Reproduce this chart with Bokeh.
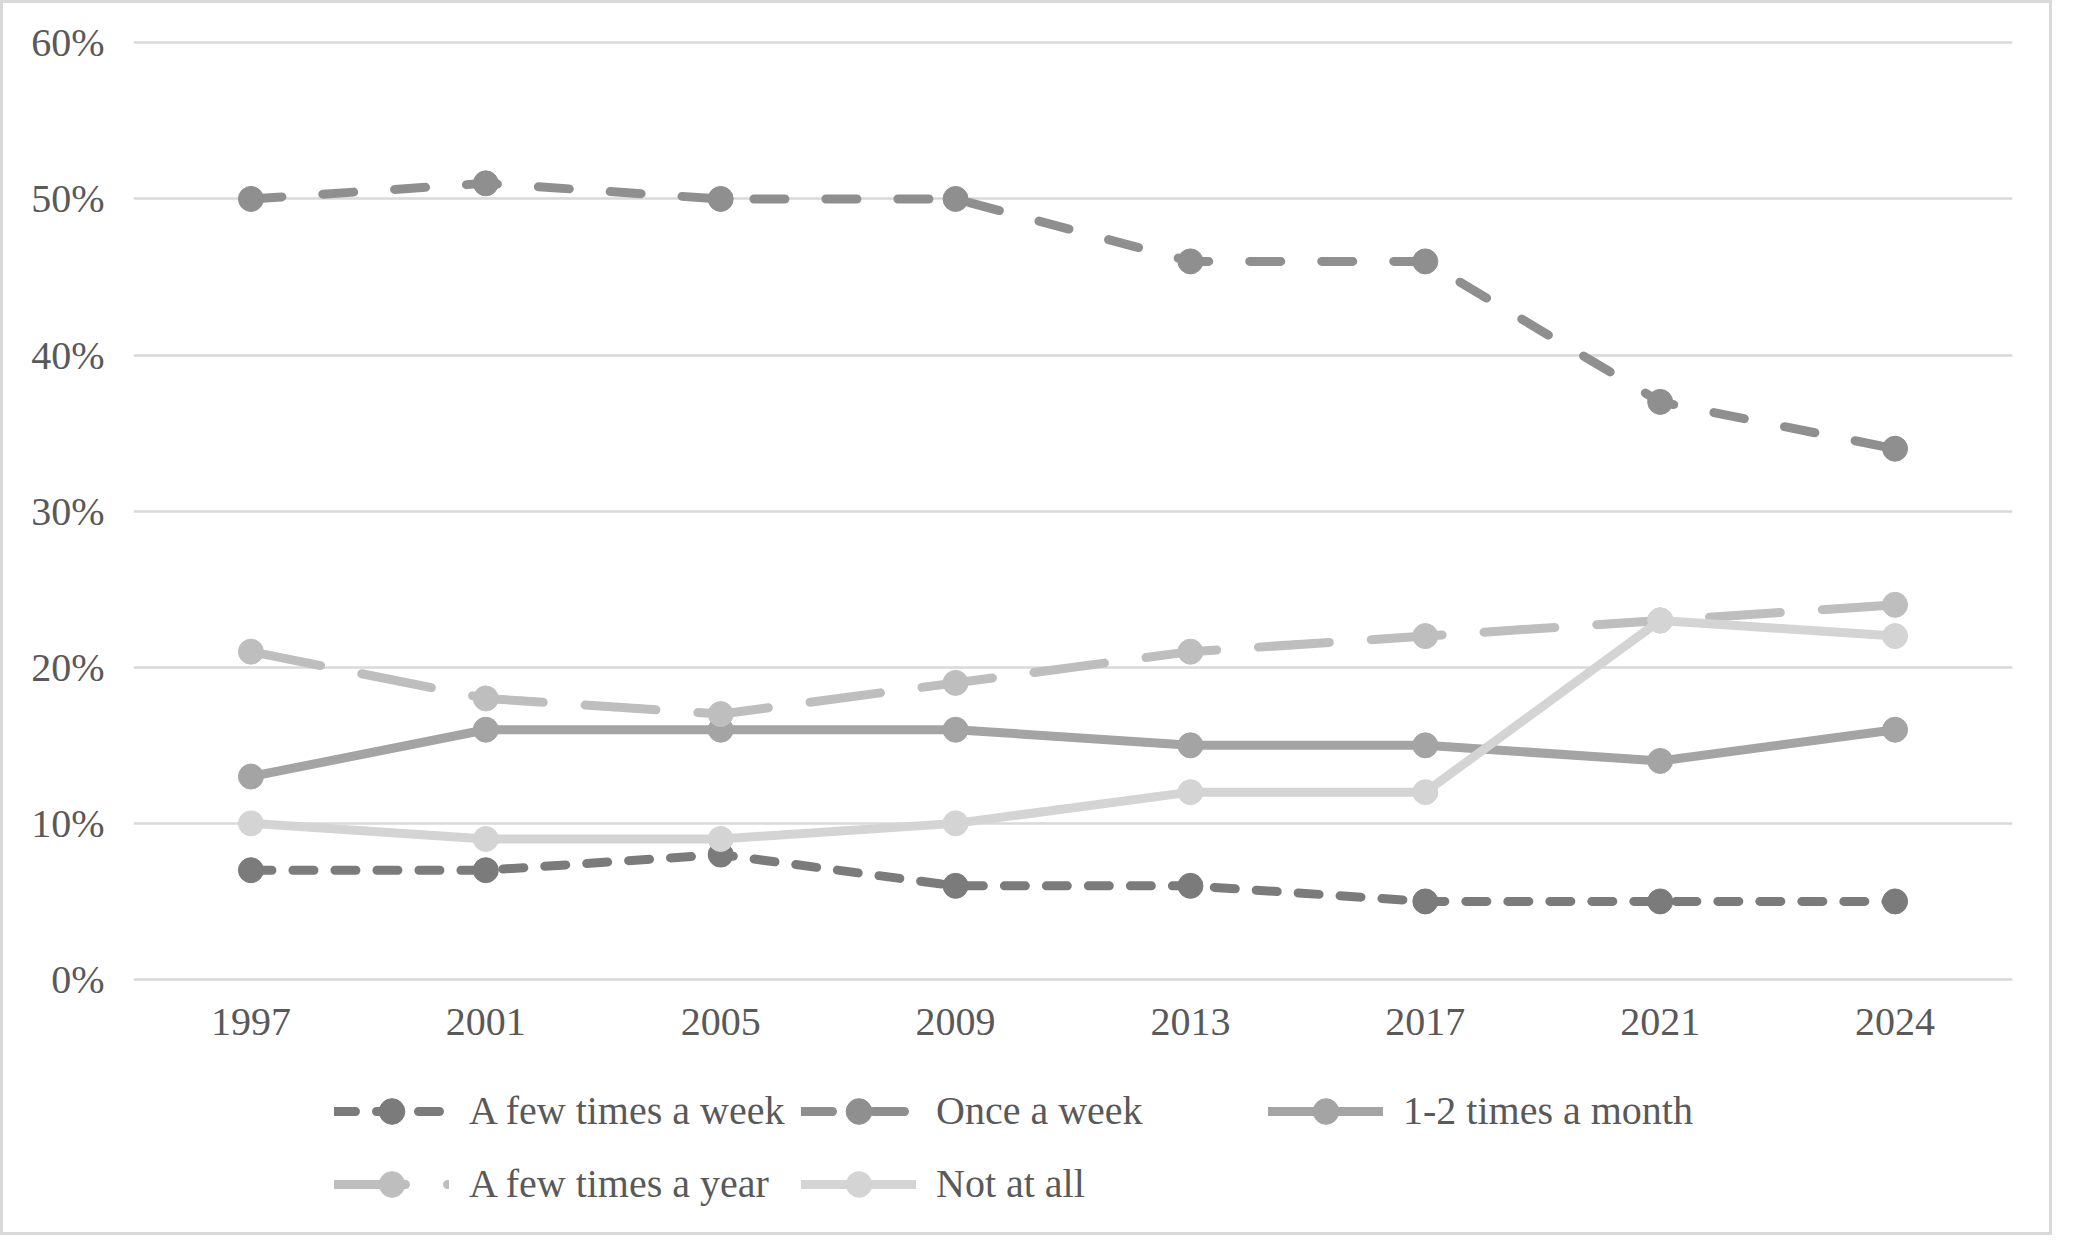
from bokeh.plotting import figure
from bokeh.models import FactorRange, Range1d, FixedTicker, Legend, LegendItem
from bokeh.embed import file_html
from bokeh.resources import INLINE

# ---- data (percent) ----
years = ["1997", "2001", "2005", "2009", "2013", "2017", "2021", "2024"]
few_times_week = [7, 7, 8, 6, 6, 5, 5, 5]
once_week = [50, 51, 50, 50, 46, 46, 37, 34]
one_two_month = [13, 16, 16, 16, 15, 15, 14, 16]
few_times_year = [21, 18, 17, 19, 21, 22, 23, 24]
not_at_all = [10, 9, 9, 10, 12, 12, 23, 22]
series_names = ["A few times a week", "Once a week", "1-2 times a month",
                "A few times a year", "Not at all"]
y_ticks = [0, 10, 20, 30, 40, 50, 60]

series_values = [few_times_week, once_week, one_two_month, few_times_year, not_at_all]
colors = ["#7b7b7b", "#8f8f8f", "#a4a4a4", "#bebebe", "#d4d4d4"]
dashes = ["21 21", "31 41", "solid", "71 42", "solid"]

FONT = "Liberation Serif"
TXT = "#595959"

# frame spans the plot plus the legend strip underneath it
p = figure(width=2052, height=1235, x_range=FactorRange(*years, range_padding=0),
           y_range=Range1d(-16.40, 60.15), output_backend="svg", toolbar_location=None,
           title=None, min_border_left=130, min_border_right=43,
           min_border_top=37, min_border_bottom=3)
p.styles = {"border": "3px solid #d9d9d9"}
p.outline_line_color = None
p.background_fill_color = "white"
p.border_fill_color = "white"

p.xgrid.grid_line_color = None
p.ygrid.grid_line_color = "#d9d9d9"
p.ygrid.grid_line_width = 2.6
p.yaxis.ticker = FixedTicker(ticks=y_ticks)
p.yaxis.major_label_overrides = {t: f"{t}%" for t in y_ticks}
p.xaxis.fixed_location = 0

for ax in (p.xaxis[0], p.yaxis[0]):
    ax.axis_line_color = None
    ax.major_tick_line_color = None
    ax.minor_tick_line_color = None
    ax.major_tick_in = 0
    ax.major_tick_out = 0
    ax.minor_tick_out = 0
    ax.major_label_text_font = FONT
    ax.major_label_text_font_size = "40px"
    ax.major_label_text_color = TXT
p.yaxis.major_label_standoff = 29
p.xaxis.major_label_standoff = 30

items = []
for name, vals, c, d in zip(series_names, series_values, colors, dashes):
    ln = p.line(x=years, y=vals, line_color=c, line_width=9, line_dash=d,
                line_cap="round", line_join="round")
    mk = p.scatter(x=years, y=vals, marker="circle", size=25,
                   fill_color=c, line_color=c)
    items.append(LegendItem(label=name, renderers=[ln, mk]))

legend = Legend(items=items, location=(201, 15), orientation="horizontal",
                ncols=3, glyph_width=115, glyph_height=64, label_standoff=20,
                label_width=332, label_height=73, spacing=0, padding=0, margin=0,
                border_line_color=None, background_fill_alpha=0,
                label_text_font=FONT, label_text_font_size="40px",
                label_text_color=TXT)
p.add_layout(legend, "center")

open("out.html", "w").write(file_html(p, INLINE))
